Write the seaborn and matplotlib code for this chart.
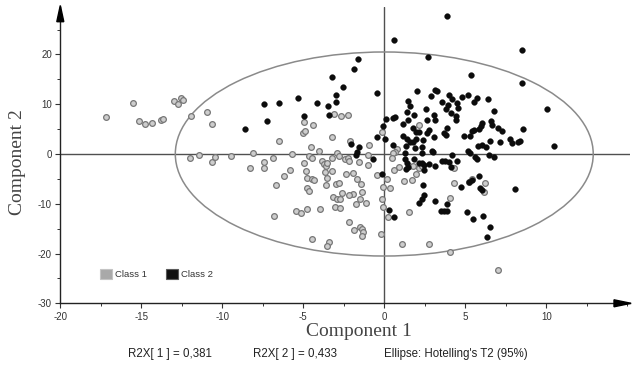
import matplotlib
matplotlib.use("Agg")
import matplotlib.pyplot as plt
import numpy as np
import pandas as pd
import seaborn as sns
from matplotlib.patches import Ellipse, Polygon, Patch
from matplotlib.ticker import MultipleLocator

# ---------------- data ----------------
class1_x = [-17.16, -15.53, -15.14, -14.75, -14.36, -13.78, -13.64, -13.00, -12.73, -12.55,
            -12.41, -11.95, -10.93, -10.65, -11.98, -11.44, -10.62, -10.48, -9.44, -8.09,
            -8.27, -7.43, -7.43, -6.85, -5.68, -5.81, -6.19, -6.70, -6.79, -5.47,
            -6.50, -3.09, -2.67, -2.22, -4.96, -5.00, -4.90, -4.38, -3.21, -4.51,
            -4.03, -2.12, -0.94, -0.16, 2.14, 0.77, 0.66, 0.51, -4.65, -4.49,
            -2.89, -2.77, -3.21, -2.43, -2.21, -2.18, -1.56, -1.01, -4.94, -4.83,
            -3.86, -3.72, -3.58, -3.51, -3.25, -3.66, -4.75, -4.47, -4.31, -3.52,
            -4.75, -4.65, -3.60, -2.95, -2.80, -2.36, -1.96, -1.70, -1.44, -1.39,
            -1.91, -2.16, -2.62, -3.15, -2.92, -2.73, -1.52, -1.13, -1.75, -3.04,
            -2.76, -0.47, 0.15, -0.10, 0.37, 0.61, 0.88, 1.20, 1.73, 1.98,
            1.54, 1.79, 2.16, 2.31, 4.32, 4.32, 5.41, 5.23, 6.22, 6.14,
            4.06, -0.16, -0.09, 0.23, 1.54, -5.16, -4.75, -3.98, -2.18, -1.85,
            -1.50, -1.36, -1.30, -1.38, -0.22, -4.44, -3.41, -3.52, 1.07, 2.76,
            4.06, 7.04, 0.48, -0.98]
class1_y = [7.49, 10.18, 6.69, 6.02, 6.22, 6.83, 7.09, 10.64, 9.98, 11.24,
            10.84, 7.69, 8.49, 6.02, -0.86, -0.26, -1.55, -0.66, -0.40, 0.14,
            -2.75, -1.51, -2.75, -0.86, 0.00, -3.21, -4.42, -6.29, -12.39, -11.45,
            2.67, 8.09, 7.69, 7.83, 6.49, 4.16, 4.72, 5.82, 3.35, 1.47,
            0.60, 2.67, 1.81, 4.36, 5.82, 0.96, 0.40, 0.14, -0.40, -0.86,
            0.14, -0.50, -0.90, -0.94, -0.86, -1.47, -1.61, -0.10, -1.75, -3.41,
            -1.35, -1.97, -2.41, -1.81, -3.41, -3.67, -4.88, -4.96, -5.32, -4.82,
            -6.89, -7.39, -6.22, -6.12, -5.82, -3.96, -3.82, -5.06, -6.12, -7.57,
            -8.03, -8.23, -7.89, -8.57, -8.98, -9.04, -9.00, -9.78, -10.00, -10.74,
            -10.90, -4.22, -5.06, -6.73, -6.89, -3.27, -2.55, -5.48, -5.22, -4.08,
            -2.41, -2.41, -2.87, -2.35, -2.75, -5.88, -5.08, -5.56, -5.88, -7.57,
            -8.88, -9.14, -10.64, -12.59, -11.69, -11.91, -11.10, -11.10, -13.59, -15.26,
            -14.72, -15.12, -15.60, -16.41, -16.12, -17.13, -17.77, -18.43, -18.17, -18.17,
            -19.68, -23.23, -0.86, -2.11]

class2_x = [3.85, 0.62, 8.48, 2.72, -1.64, -1.85, 5.35, -3.21, 8.48, -2.57,
            -0.43, -3.00, -5.35, -2.96, -7.43, -6.50, -4.17, -3.48, -3.40, -4.96,
            -7.22, -8.58, 2.05, 2.88, 3.16, 3.28, 3.99, 4.20, 4.78, 5.15,
            5.75, 6.40, 3.59, 3.91, 4.51, 5.56, 1.48, 1.60, 2.57, 3.81,
            4.54, 4.12, 4.44, 4.43, 6.78, 10.02, 0.66, 0.56, 1.38, 1.85,
            3.10, 3.15, 1.14, 2.62, 6.06, 5.97, 5.86, 6.57, 6.68, 7.00,
            7.27, 8.54, 0.10, -0.05, 1.48, 1.79, 1.96, 2.16, 2.79, 2.65,
            3.87, 3.67, 3.81, 5.41, 5.57, 4.93, 5.29, 1.14, 1.43, 1.59,
            1.79, 1.96, 0.04, -0.43, 0.56, 1.34, 1.88, 5.80, 6.03, 6.28,
            6.52, 7.14, 7.76, 7.86, 8.27, 8.38, 10.49, 2.41, 3.09, -2.07,
            -1.56, -1.67, -1.75, -0.72, 1.28, 2.33, 2.94, 3.02, 4.18, 5.19,
            5.28, 6.46, 6.77, 5.62, 5.72, 1.28, 1.85, 2.16, 2.35, 2.45,
            2.78, 3.58, 3.75, 4.02, 4.47, 1.36, 1.48, 2.47, 3.13, 4.12,
            -0.15, 2.41, 4.72, 5.21, 5.40, 5.83, 5.91, 6.01, 8.10, 2.46,
            2.31, 2.12, 3.15, 3.89, 3.50, 3.69, 3.85, 5.09, 5.49, 6.11,
            6.52, 6.34, 0.29, 0.58, 1.38, 2.33]
class2_y = [27.81, 22.95, 20.82, 19.42, 19.14, 17.07, 15.82, 15.40, 14.36, 13.51,
            12.29, 11.85, 11.24, 10.38, 9.98, 10.18, 10.18, 9.70, 7.89, 7.69,
            6.63, 5.02, 12.75, 11.65, 12.95, 12.65, 11.95, 11.00, 11.49, 11.85,
            11.29, 11.04, 10.44, 9.80, 10.18, 10.44, 10.68, 9.74, 9.14, 8.98,
            9.18, 8.33, 7.57, 6.83, 8.57, 8.98, 7.53, 7.17, 8.49, 7.89,
            7.93, 6.93, 5.98, 6.83, 6.22, 5.62, 4.98, 6.67, 5.76, 5.26,
            4.72, 4.96, 7.03, 5.62, 6.83, 5.16, 4.48, 4.42, 4.82, 4.28,
            5.16, 4.22, 3.82, 4.68, 4.78, 3.67, 3.67, 3.71, 2.95, 2.47,
            2.51, 2.95, 3.01, 3.51, 1.75, 1.61, 1.20, 1.65, 1.81, 1.37,
            2.67, 2.45, 2.95, 2.31, 2.47, 2.65, 1.61, 2.81, 3.47, 2.01,
            1.47, 0.50, -0.20, -1.06, 0.14, 0.14, 0.60, 0.40, -0.26, 0.54,
            0.20, -0.24, -0.60, -0.66, -0.96, -1.06, -1.10, -1.75, -1.87, -2.21,
            -2.01, -1.35, -1.41, -1.55, -1.31, -3.07, -2.55, -3.21, -2.35, -2.55,
            -4.06, -6.29, -6.73, -5.68, -5.22, -4.42, -6.89, -7.23, -7.03, -8.33,
            -9.14, -9.84, -9.44, -10.04, -11.51, -11.51, -11.51, -11.71, -12.99, -12.39,
            -14.66, -16.61, -11.31, -12.59, -1.75, 1.41]

class_names = ["Class 1", "Class 2"]
x_ticks = [-20, -15, -10, -5, 0, 5, 10]
y_ticks = [-30, -20, -10, 0, 10, 20]
ellipse_semi_x = 12.9
ellipse_semi_y = 20.5
footer_texts = ["R2X[ 1 ] = 0,381", "R2X[ 2 ] = 0,433", "Ellipse: Hotelling's T2 (95%)"]

df = pd.DataFrame({
    "Component 1": class1_x + class2_x,
    "Component 2": class1_y + class2_y,
    "Class": [class_names[0]] * len(class1_x) + [class_names[1]] * len(class2_x),
})

# ---------------- figure ----------------
sns.set_style("ticks")
plt.rcParams["font.family"] = ["Liberation Sans", "DejaVu Sans"]
plt.rcParams["axes.unicode_minus"] = False

W, H = 641, 365
fig = plt.figure(figsize=(W / 100, H / 100), dpi=100)


def fx(px):
    return px / W


def fy(py):
    return 1 - py / H


ax = fig.add_axes([fx(60.3), fy(303.3), fx(630) - fx(60.3), fy(6.7) - fy(303.3)])
ax.set_xlim(-20, 15.17)
ax.set_ylim(-30, 29.6)

# crosshair and ellipse
ax.axhline(0, color="#505050", lw=1.0, zorder=1)
ax.axvline(0, color="#505050", lw=1.0, zorder=1)
ax.add_patch(Ellipse((0, 0), 2 * ellipse_semi_x, 2 * ellipse_semi_y, fill=False,
                     edgecolor="#8a8a8a", lw=1.1, zorder=2))

d1 = df[df["Class"] == class_names[0]]
d2 = df[df["Class"] == class_names[1]]
sns.scatterplot(data=d1, x="Component 1", y="Component 2", ax=ax, s=17,
                color="#cdcdcd", edgecolor="#777777", linewidth=0.9, zorder=3, legend=False)
sns.scatterplot(data=d2, x="Component 1", y="Component 2", ax=ax, s=17,
                color="#0c0c0c", edgecolor="#0c0c0c", linewidth=0.3, zorder=4, legend=False)

ax.set_xlabel("")
ax.set_ylabel("")
for s in ["top", "right"]:
    ax.spines[s].set_visible(False)
for s in ["left", "bottom"]:
    ax.spines[s].set_color("#222222")
    ax.spines[s].set_linewidth(1.0)

ax.set_xticks(x_ticks)
ax.set_xticklabels([str(t) for t in x_ticks])
ax.set_yticks(y_ticks)
ax.set_yticklabels([str(t) for t in y_ticks])
ax.xaxis.set_minor_locator(MultipleLocator(2.5))
ax.yaxis.set_minor_locator(MultipleLocator(5))
ax.tick_params(which="major", direction="out", length=3.5, width=0.8, color="#333333",
               labelsize=7, labelcolor="#333333", pad=2.5, bottom=True, left=True)
ax.tick_params(which="minor", direction="out", length=2.2, width=0.7, color="#333333",
               bottom=True, left=True)

# arrow heads
fig.add_artist(Polygon([(fx(631), fy(303.3)), (fx(614), fy(299.8)), (fx(614), fy(306.8))],
                       closed=True, transform=fig.transFigure, color="black"))
fig.add_artist(Polygon([(fx(60.3), fy(5.5)), (fx(56.8), fy(21.7)), (fx(63.8), fy(21.7))],
                       closed=True, transform=fig.transFigure, color="black"))

# legend
handles = [Patch(facecolor="#a9a9a9", edgecolor="#c4c4c4", lw=0.8),
           Patch(facecolor="#111111", edgecolor="#5a5a5a", lw=0.8)]
ax.legend(handles, class_names, loc="center left", bbox_to_anchor=(fx(100), fy(274)),
          bbox_transform=fig.transFigure, ncol=2, frameon=False, fontsize=6.8,
          handlelength=1.25, handleheight=1.25, handletextpad=0.35, columnspacing=2.0,
          borderpad=0, borderaxespad=0, labelcolor="#333333")

# axis titles
fig.text(fx(359), fy(331.5), "Component 1", ha="center", va="center", fontsize=14,
         family=["Liberation Serif", "DejaVu Serif"], color="#444444")
fig.text(fx(18), fy(162), "Component 2", ha="center", va="center", fontsize=14,
         rotation=90, family=["Liberation Serif", "DejaVu Serif"], color="#444444")

# footer
for txt, px in zip(footer_texts, [127.7, 253, 384]):
    fig.text(fx(px), fy(354), txt, ha="left", va="center", fontsize=8.3, color="#222222")

fig.savefig("out.png", dpi=100)
